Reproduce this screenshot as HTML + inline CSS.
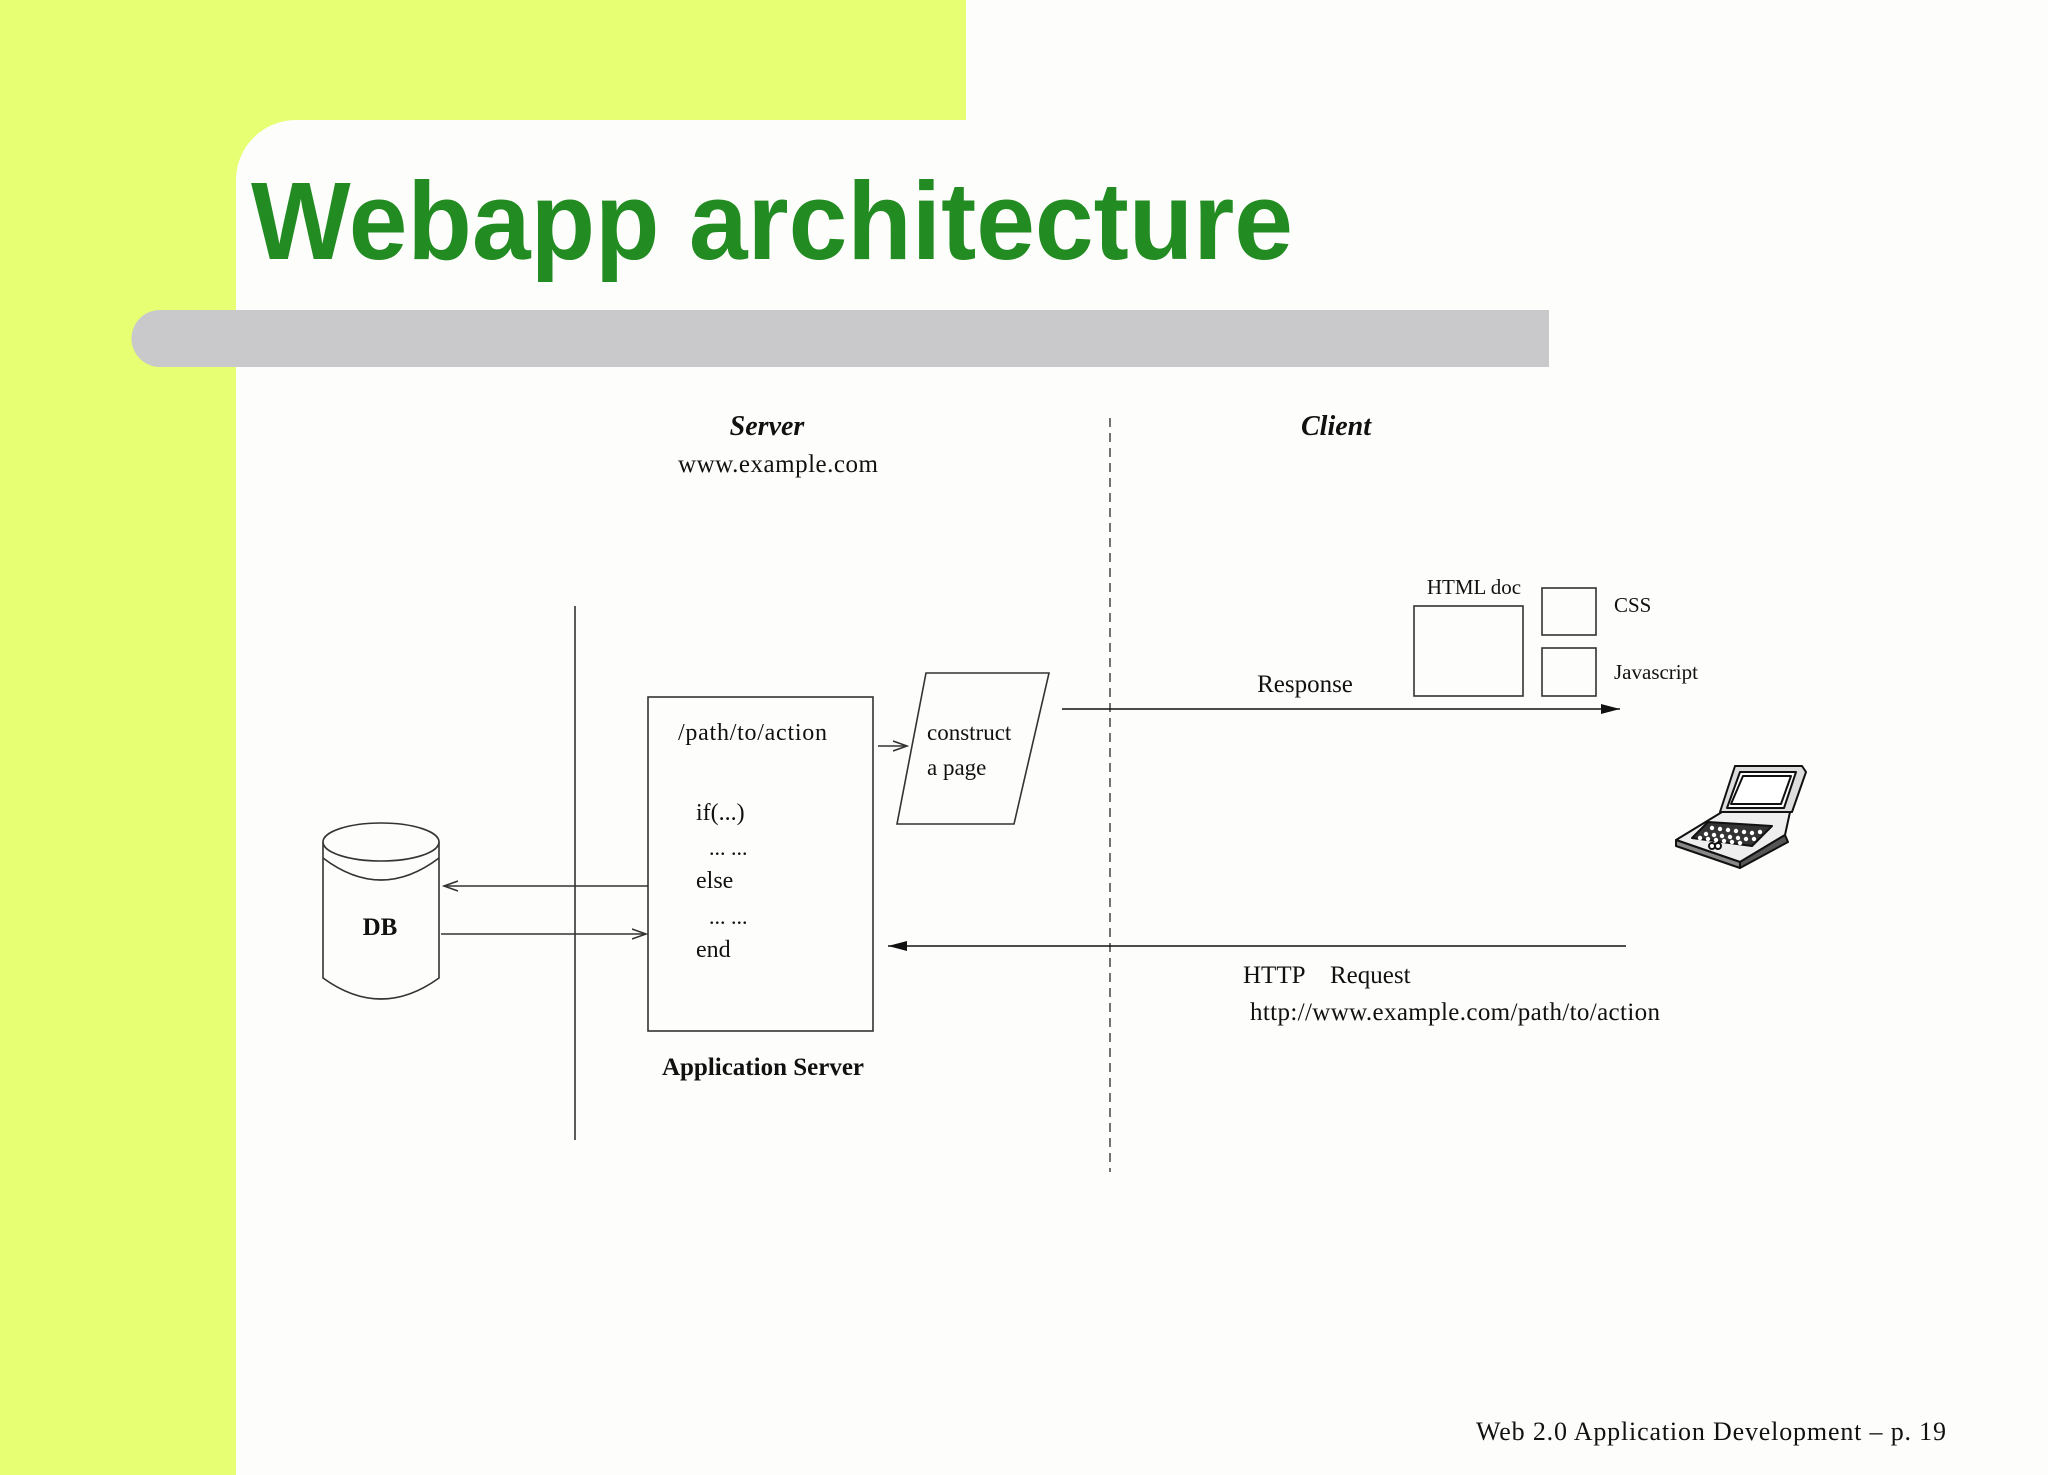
<!DOCTYPE html>
<html><head><meta charset="utf-8"><style>
html,body{margin:0;padding:0;background:#fdfefb;}
svg{display:block}
</style></head><body>
<svg width="2048" height="1475" viewBox="0 0 2048 1475" xmlns="http://www.w3.org/2000/svg">
<defs>
<marker id="open" markerWidth="16" markerHeight="12" refX="14" refY="6" orient="auto" markerUnits="userSpaceOnUse">
<path d="M0,1 L14,6 L0,11" fill="none" stroke="#333" stroke-width="1.6"/></marker>
<marker id="fill" markerWidth="20" markerHeight="12" refX="19" refY="6" orient="auto" markerUnits="userSpaceOnUse">
<path d="M0,1 L19,6 L0,11 Z" fill="#111"/></marker>
</defs>
<rect width="2048" height="1475" fill="#fdfefb"/>
<rect x="0" y="0" width="236" height="1475" fill="#e6ff73"/>
<rect x="0" y="0" width="966" height="120" fill="#e6ff73"/>
<path d="M236,120 L296,120 A60,60 0 0 0 236,180 Z" fill="#e6ff73"/>
<path d="M160,310 L1549,310 L1549,367 L160,367 A28,28 0 0 1 160,310 Z" fill="#c9c8cb"/>
<text x="251" y="259" font-family="Liberation Sans, sans-serif" font-weight="bold" font-size="110" fill="#228b22" textLength="1042" lengthAdjust="spacingAndGlyphs">Webapp architecture</text>

<g font-family="Liberation Serif, serif" fill="#111">
<text x="767" y="435" font-size="28" font-weight="bold" font-style="italic" text-anchor="middle">Server</text>
<text x="778" y="472" font-size="25" text-anchor="middle" textLength="200">www.example.com</text>
<text x="1336" y="435" font-size="28" font-weight="bold" font-style="italic" text-anchor="middle">Client</text>

<line x1="1110" y1="418" x2="1110" y2="1172" stroke="#444" stroke-width="1.5" stroke-dasharray="9,6"/>
<line x1="575" y1="606" x2="575" y2="1140" stroke="#333" stroke-width="1.6"/>

<rect x="648" y="697" width="225" height="334" fill="none" stroke="#333" stroke-width="1.6"/>
<text x="678" y="740" font-size="24" textLength="149">/path/to/action</text>
<text x="696" y="820" font-size="24">if(...)</text>
<text x="709" y="855" font-size="22">... ...</text>
<text x="696" y="888" font-size="24">else</text>
<text x="709" y="924" font-size="22">... ...</text>
<text x="696" y="957" font-size="24">end</text>
<text x="763" y="1075" font-size="25" font-weight="bold" text-anchor="middle">Application Server</text>

<polygon points="926,673 1049,673 1014,824 897,824" fill="none" stroke="#333" stroke-width="1.6"/>
<text x="927" y="740" font-size="23">construct</text>
<text x="927" y="775" font-size="23">a page</text>
<line x1="878" y1="746" x2="907" y2="746" stroke="#333" stroke-width="1.6" marker-end="url(#open)"/>

<path d="M323,842 L323,978 Q381,1020 439,978 L439,842" fill="none" stroke="#333" stroke-width="1.6"/>
<ellipse cx="381" cy="842" rx="58" ry="19" fill="#fdfefb" stroke="#333" stroke-width="1.6"/>
<path d="M323,858 Q381,902 439,858" fill="none" stroke="#333" stroke-width="1.6"/>
<text x="380" y="935" font-size="25" font-weight="bold" text-anchor="middle">DB</text>
<line x1="648" y1="886" x2="444" y2="886" stroke="#333" stroke-width="1.6" marker-end="url(#open)"/>
<line x1="441" y1="934" x2="646" y2="934" stroke="#333" stroke-width="1.6" marker-end="url(#open)"/>

<line x1="1062" y1="709" x2="1620" y2="709" stroke="#111" stroke-width="1.6" marker-end="url(#fill)"/>
<text x="1305" y="692" font-size="25" text-anchor="middle">Response</text>
<rect x="1414" y="606" width="109" height="90" fill="none" stroke="#333" stroke-width="1.6"/>
<text x="1474" y="594" font-size="21" text-anchor="middle">HTML doc</text>
<rect x="1542" y="588" width="54" height="47" fill="none" stroke="#333" stroke-width="1.6"/>
<rect x="1542" y="648" width="54" height="48" fill="none" stroke="#333" stroke-width="1.6"/>
<text x="1614" y="612" font-size="21">CSS</text>
<text x="1614" y="679" font-size="21">Javascript</text>

<line x1="1626" y1="946" x2="888" y2="946" stroke="#111" stroke-width="1.6" marker-end="url(#fill)"/>
<text x="1243" y="983" font-size="25">HTTP</text>
<text x="1330" y="983" font-size="25">Request</text>
<text x="1250" y="1020" font-size="25" textLength="410">http://www.example.com/path/to/action</text>

<text x="1476" y="1440" font-size="26" textLength="470">Web 2.0 Application Development – p. 19</text>
</g>

<g stroke="#111" stroke-width="2" fill="#fdfefb" stroke-linejoin="round">
<path d="M1735,766 L1802,766 L1806,772 L1792,812 L1720,812 Z" fill="#ddd"/>
<path d="M1740,772 L1796,772 L1784,808 L1727,808 Z"/>
<path d="M1743,776 L1791,776 L1781,804 L1731,804 Z" fill="#fff"/>
<path d="M1722,812 L1790,812 L1785,835 L1740,862 L1676,840 Z" fill="#eee"/>
<path d="M1676,840 L1740,862 L1740,868 L1676,846 Z" fill="#888"/>
<path d="M1740,862 L1785,835 L1788,842 L1740,868 Z" fill="#555"/>
<path d="M1708,822 L1772,826 L1752,846 L1692,838 Z" fill="#333"/>
<g fill="#fff" stroke="none">
<circle cx="1712" cy="828" r="2.2"/><circle cx="1720" cy="829" r="2.2"/><circle cx="1728" cy="830" r="2.2"/><circle cx="1736" cy="831" r="2.2"/><circle cx="1744" cy="832" r="2.2"/><circle cx="1752" cy="833" r="2.2"/><circle cx="1760" cy="832" r="2.2"/>
<circle cx="1706" cy="834" r="2.2"/><circle cx="1714" cy="835" r="2.2"/><circle cx="1722" cy="836" r="2.2"/><circle cx="1730" cy="837" r="2.2"/><circle cx="1738" cy="838" r="2.2"/><circle cx="1746" cy="839" r="2.2"/><circle cx="1754" cy="839" r="2.2"/>
<circle cx="1700" cy="838" r="2.2"/><circle cx="1708" cy="839" r="2.2"/><circle cx="1716" cy="840" r="2.2"/><circle cx="1724" cy="841" r="2.2"/><circle cx="1732" cy="842" r="2.2"/><circle cx="1740" cy="843" r="2.2"/>
</g>
<circle cx="1712" cy="846" r="3" fill="#fff"/><circle cx="1718" cy="846" r="3" fill="#fff"/>
</g>
</svg>
</body></html>
